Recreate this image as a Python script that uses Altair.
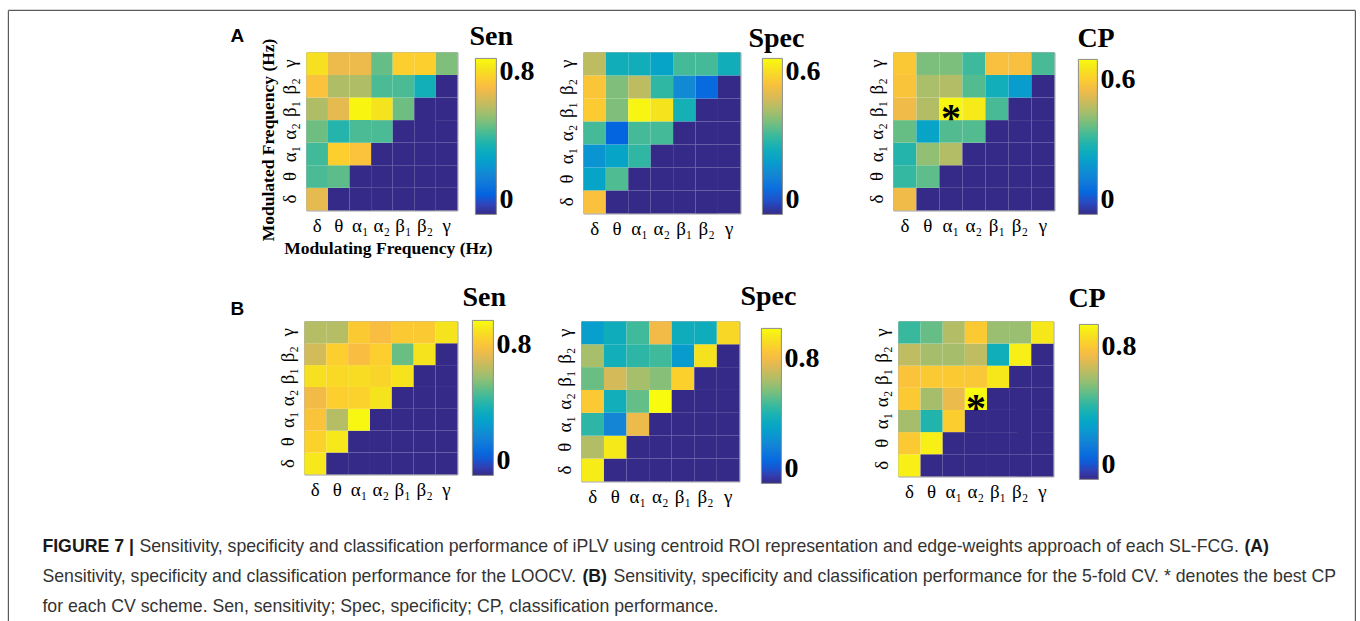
import altair as alt
import pandas as pd

# Frequency bands, low to high
BANDS = ["δ", "θ", "α₁", "α₂", "β₁", "β₂", "γ"]

# Lower-triangular matrices: row k is the modulated band BANDS[k],
# its entries are the modulating bands BANDS[0..k]; other cells are 0.
A_SEN = [
    [0.62],
    [0.42, 0.44],
    [0.41, 0.70, 0.67],
    [0.46, 0.37, 0.42, 0.42],
    [0.54, 0.62, 0.79, 0.75, 0.46],
    [0.67, 0.54, 0.54, 0.42, 0.42, 0.34],
    [0.74, 0.63, 0.63, 0.45, 0.70, 0.70, 0.48],
]
A_SPEC = [
    [0.50],
    [0.22, 0.32],
    [0.18, 0.22, 0.29],
    [0.31, 0.08, 0.31, 0.31],
    [0.52, 0.36, 0.59, 0.56, 0.26],
    [0.51, 0.36, 0.42, 0.29, 0.16, 0.09],
    [0.42, 0.25, 0.25, 0.22, 0.31, 0.31, 0.25],
]
A_CP = [
    [0.55],
    [0.34, 0.38],
    [0.32, 0.43, 0.47],
    [0.39, 0.25, 0.37, 0.37],
    [0.55, 0.47, 0.68, 0.66, 0.36],
    [0.58, 0.46, 0.47, 0.37, 0.29, 0.23],
    [0.59, 0.41, 0.41, 0.35, 0.57, 0.57, 0.36],
]
B_SEN = [
    [0.90],
    [0.84, 0.90],
    [0.80, 0.65, 0.94],
    [0.76, 0.83, 0.84, 0.89],
    [0.88, 0.86, 0.87, 0.85, 0.89],
    [0.70, 0.83, 0.78, 0.83, 0.54, 0.89],
    [0.65, 0.65, 0.82, 0.78, 0.82, 0.82, 0.89],
]
B_SPEC = [
    [0.96],
    [0.68, 0.95],
    [0.48, 0.25, 0.79],
    [0.86, 0.42, 0.56, 1.00],
    [0.57, 0.74, 0.66, 0.61, 0.88],
    [0.66, 0.42, 0.48, 0.51, 0.33, 0.93],
    [0.34, 0.41, 0.51, 0.80, 0.41, 0.41, 0.90],
]
B_CP = [
    [0.91],
    [0.81, 0.91],
    [0.62, 0.43, 0.82],
    [0.81, 0.62, 0.74, 0.94],
    [0.79, 0.81, 0.81, 0.80, 0.89],
    [0.66, 0.62, 0.62, 0.66, 0.39, 0.91],
    [0.47, 0.53, 0.64, 0.81, 0.60, 0.60, 0.89],
]

TITLES = ["Sen", "Spec", "CP"]
# upper limit of each colour bar and the tick printed on it
A_LIMITS = [0.80, 0.60, 0.69]
A_TICKS = [0.8, 0.6, 0.6]
B_LIMITS = [0.95, 1.00, 0.94]
B_TICKS = [0.8, 0.8, 0.8]
# best classification performance cell (modulating, modulated)
A_BEST = ("α₁", "β₁")
B_BEST = ("α₂", "α₂")

CAPTION_1 = [
    ("FIGURE 7 |", True),
    ("Sensitivity, specificity and classification performance of iPLV using centroid ROI "
     "representation and edge-weights approach of each SL-FCG.", False),
    ("(A)", True),
]
CAPTION_2 = [
    ("Sensitivity, specificity and classification performance for the LOOCV.", False),
    ("(B)", True),
    ("Sensitivity, specificity and classification performance for the 5-fold CV. "
     "* denotes the best CP", False),
]
CAPTION_3 = [
    ("for each CV scheme. Sen, sensitivity; Spec, specificity; CP, classification performance.", False),
]

# parula colour map, sampled from its 64-entry table
PARULA = ["#352a87", "#3243ba", "#0363e1", "#0d75dc", "#1485d4", "#0998d1",
          "#06a7c6", "#16b1b4", "#38b99e", "#65be86", "#92bf73", "#b7bd64",
          "#d9ba56", "#f8bb44", "#fcce2e", "#f5e41d", "#f9fb0e"]

SERIF = "Liberation Serif"
SANS = "Liberation Sans"
CAPTION_SIZE = 17.7


def cells(rows):
    recs = []
    for k, row in enumerate(rows):
        for i, band in enumerate(BANDS):
            recs.append({"modulating": band, "modulated": BANDS[k],
                         "value": row[i] if i < len(row) else 0.0})
    return pd.DataFrame(recs)


def indep(c):
    return c.resolve_scale(color="independent", x="independent", y="independent") \
            .resolve_legend(color="independent")


def heatmap(rows, name, vmax, tick, size, title_dx, title_dy, bar, best=None,
            axis_titles=False):
    w, h = size
    bar_x, bar_y, bar_len, bar_w = bar
    x_kw = dict(labelFont=SERIF, labelFontSize=19, labelColor="black", labelAngle=0,
                labelPadding=6, labelOverlap=False, ticks=False, domain=False)
    y_kw = dict(labelFont=SERIF, labelFontSize=19, labelColor="black", labelAngle=270,
                labelAlign="center", labelBaseline="bottom", labelPadding=7,
                labelOverlap=False, ticks=False, domain=False)
    if axis_titles:
        for kw in (x_kw, y_kw):
            kw.update(titleFont=SERIF, titleFontSize=17.5, titleFontWeight="bold",
                      titleColor="black")
        x_kw.update(titlePadding=4, titleX=w / 2 + 6)
        y_kw.update(titlePadding=3, titleY=h / 2 + 8)
    x = alt.X("modulating:N", sort=BANDS, axis=alt.Axis(**x_kw),
              title="Modulating Frequency (Hz)" if axis_titles else None)
    y = alt.Y("modulated:N", sort=BANDS[::-1], axis=alt.Axis(**y_kw),
              title="Modulated Frequency (Hz)" if axis_titles else None)
    stops = [vmax * k / (len(PARULA) - 1) for k in range(len(PARULA))]
    color = alt.Color(
        "value:Q",
        scale=alt.Scale(domain=stops, range=PARULA, interpolate="rgb"),
        legend=alt.Legend(
            orient="none", legendX=w + bar_x, legendY=bar_y, direction="vertical",
            gradientLength=bar_len, gradientThickness=bar_w, values=[0, tick],
            format=".1~f", labelFont=SERIF, labelFontSize=28, labelFontWeight="bold",
            labelColor="black", labelOffset=3, labelOverlap=False,
            gradientStrokeColor="#8c8c8c", gradientStrokeWidth=1, padding=0, title=None,
        ),
    )
    heat = alt.Chart(cells(rows)).mark_rect().encode(x=x, y=y, color=color)
    layers = [heat]
    if best:
        star = alt.Chart(pd.DataFrame({"modulating": [best[0]], "modulated": [best[1]],
                                       "mark": ["*"]})).mark_text(
            font=SERIF, fontSize=40, fontWeight="bold", color="black", dy=10
        ).encode(x=x, y=y, text="mark:N")
        layers.append(star)
    return alt.layer(*layers).properties(
        width=w, height=h,
        title=alt.Title(name, font=SERIF, fontSize=28, fontWeight="bold", color="black",
                        anchor="start", frame="group", dx=title_dx, dy=title_dy,
                        offset=0, baseline="alphabetic"),
        view=alt.ViewBackground(stroke="#8c8c8c", strokeWidth=1),
    )


def blank(width):
    return alt.Chart(pd.DataFrame({"t": [""]})).mark_text().encode(
        text="t:N").properties(width=width, height=1)


def tag(letter, width, drop, extra=None):
    label = alt.Chart(pd.DataFrame({"t": [letter]})).mark_text(
        font=SANS, fontSize=19, fontWeight="bold", color="black", align="left",
        baseline="top"
    ).encode(text="t:N", x=alt.value(222), y=alt.value(drop))
    layers = [label] + (extra or [])
    return alt.layer(*layers).properties(width=width, height=1)


def panel_row(label, panels, gaps):
    items = [label, panels[0], blank(gaps[0]), panels[1], blank(gaps[1]), panels[2]]
    return indep(alt.hconcat(*items, spacing=0, bounds="flush"))


def caption_line(parts, lead):
    views = []
    for n, (text, bold) in enumerate(parts):
        views.append(alt.Chart(pd.DataFrame({"t": [text]})).mark_text(
            font=SANS, fontSize=CAPTION_SIZE, fontWeight="bold" if bold else "normal",
            color="#1a1a1a" if bold else "#333333", align="left", baseline="alphabetic"
        ).encode(text="t:N", x=alt.value(lead if n == 0 else 0), y=alt.value(0))
         .properties(width=1, height=1))
    return alt.hconcat(*views, spacing=4) if len(views) > 1 else views[0]


# figure frame: left, top and right edges, drawn from the first tag's origin
FRAME_TOP = -42
FRAME_W = 1347
FRAME_BOTTOM = 569
edge = alt.Chart(pd.DataFrame({"k": [0]})).mark_rule(color="#5a5a5a", strokeWidth=1.2)
frame = [
    edge.encode(x=alt.value(0), y=alt.value(FRAME_TOP), y2=alt.value(FRAME_BOTTOM)),
    edge.encode(x=alt.value(0), x2=alt.value(FRAME_W), y=alt.value(FRAME_TOP)),
    edge.encode(x=alt.value(FRAME_W), y=alt.value(FRAME_TOP), y2=alt.value(FRAME_BOTTOM)),
]

row_a = panel_row(
    tag("A", 298, -25.4, frame),
    [
        heatmap(A_SEN, TITLES[0], A_LIMITS[0], A_TICKS[0], (151, 158), 163, 35.5,
                (18, 6, 156, 21), axis_titles=True),
        heatmap(A_SPEC, TITLES[1], A_LIMITS[1], A_TICKS[1], (157, 161), 165, 22.5,
                (22, 6, 156, 20)),
        heatmap(A_CP, TITLES[2], A_LIMITS[2], A_TICKS[2], (161, 158), 184, 22.5,
                (24, 7, 155, 19), best=A_BEST),
    ],
    (126, 153),
)
row_b = panel_row(
    tag("B", 296, -21.4),
    [
        heatmap(B_SEN, TITLES[0], B_LIMITS[0], B_TICKS[0], (153, 153), 158, 13.5,
                (15, -1, 155, 21)),
        heatmap(B_SPEC, TITLES[1], B_LIMITS[1], B_TICKS[1], (158, 160), 159, 11.5,
                (22, 7, 155, 20)),
        heatmap(B_CP, TITLES[2], B_LIMITS[2], B_TICKS[2], (155, 155), 170, 13.5,
                (26, 3, 155, 19), best=B_BEST),
    ],
    (124, 159),
)

caption = alt.vconcat(caption_line(CAPTION_1, 34), caption_line(CAPTION_2, 34),
                      caption_line(CAPTION_3, 34), spacing=9.8)

panels = indep(alt.vconcat(row_a, row_b, spacing=269, bounds="flush"))
chart = indep(alt.vconcat(panels, caption, spacing=500, bounds="flush")).properties(
    padding={"left": 6.4, "top": 8.4, "right": 0, "bottom": 0},
    background="white",
).configure_view(stroke="transparent")

chart.save("out.html", embed_options={"renderer": "svg", "actions": False})
